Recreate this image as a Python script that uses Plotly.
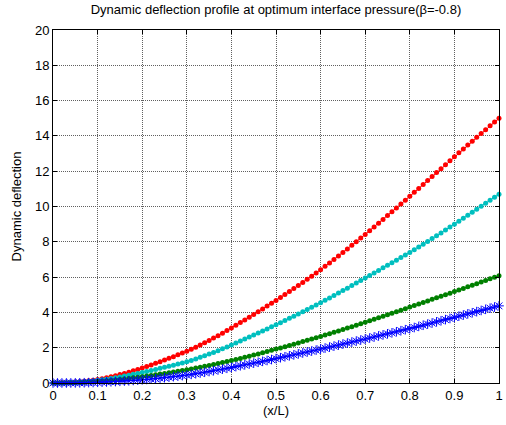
import plotly.graph_objects as go

# Non-dimensional position along the beam, 0..1 in steps of 0.01
x_over_L = [round(i * 0.01, 2) for i in range(101)]

defl_red = [
    0, 0.002, 0.008, 0.018, 0.032, 0.05, 0.072, 0.098, 0.128, 0.162, 0.2,
    0.247, 0.298, 0.353, 0.412, 0.475, 0.542, 0.613, 0.688, 0.767, 0.85,
    0.936, 1.024, 1.114, 1.206, 1.300, 1.396, 1.494, 1.594, 1.696, 1.80,
    1.914, 2.032, 2.154, 2.280, 2.410, 2.544, 2.682, 2.824, 2.970, 3.12,
    3.270, 3.421, 3.574, 3.728, 3.884, 4.041, 4.199, 4.358, 4.518, 4.68,
    4.844, 5.010, 5.178, 5.349, 5.522, 5.697, 5.874, 6.053, 6.234, 6.42,
    6.610, 6.803, 6.999, 7.197, 7.397, 7.598, 7.801, 8.006, 8.212, 8.42,
    8.630, 8.841, 9.054, 9.268, 9.484, 9.701, 9.919, 10.138, 10.358, 10.58,
    10.802, 11.025, 11.248, 11.472, 11.696, 11.920, 12.145, 12.370, 12.595, 12.82,
    13.042, 13.263, 13.483, 13.702, 13.920, 14.138, 14.355, 14.571, 14.786, 15.0,
]

defl_cyan = [
    0, 0.001, 0.005, 0.012, 0.022, 0.035, 0.051, 0.07, 0.093, 0.12, 0.15,
    0.183, 0.219, 0.258, 0.300, 0.345, 0.392, 0.441, 0.492, 0.545, 0.60,
    0.656, 0.713, 0.771, 0.830, 0.890, 0.950, 1.011, 1.073, 1.136, 1.20,
    1.28, 1.364, 1.452, 1.543, 1.638, 1.735, 1.834, 1.936, 2.041, 2.15,
    2.261, 2.373, 2.486, 2.60, 2.715, 2.83, 2.946, 3.063, 3.181, 3.30,
    3.42, 3.541, 3.663, 3.786, 3.91, 4.036, 4.163, 4.291, 4.42, 4.55,
    4.684, 4.82, 4.957, 5.095, 5.235, 5.375, 5.517, 5.66, 5.804, 5.95,
    6.092, 6.235, 6.379, 6.523, 6.668, 6.813, 6.959, 7.105, 7.252, 7.40,
    7.552, 7.706, 7.862, 8.02, 8.18, 8.34, 8.502, 8.666, 8.832, 9.0,
    9.168, 9.336, 9.505, 9.675, 9.845, 10.015, 10.186, 10.357, 10.529, 10.70,
]

defl_green = [
    0, 0.001, 0.003, 0.007, 0.013, 0.02, 0.029, 0.039, 0.051, 0.065, 0.08,
    0.099, 0.121, 0.145, 0.171, 0.199, 0.228, 0.259, 0.291, 0.325, 0.36,
    0.395, 0.431, 0.468, 0.506, 0.545, 0.584, 0.624, 0.665, 0.707, 0.75,
    0.796, 0.843, 0.892, 0.942, 0.994, 1.047, 1.101, 1.156, 1.212, 1.27,
    1.33, 1.392, 1.455, 1.519, 1.584, 1.65, 1.717, 1.784, 1.852, 1.92,
    1.989, 2.059, 2.13, 2.201, 2.273, 2.345, 2.418, 2.491, 2.565, 2.64,
    2.717, 2.795, 2.874, 2.953, 3.033, 3.113, 3.194, 3.275, 3.357, 3.44,
    3.524, 3.609, 3.694, 3.78, 3.866, 3.952, 4.038, 4.125, 4.212, 4.30,
    4.388, 4.476, 4.564, 4.652, 4.74, 4.828, 4.916, 5.004, 5.092, 5.18,
    5.27, 5.36, 5.45, 5.54, 5.63, 5.72, 5.81, 5.90, 5.99, 6.08,
]

defl_blue = [
    0, 0, 0.001, 0.002, 0.004, 0.007, 0.011, 0.016, 0.022, 0.03, 0.04,
    0.049, 0.059, 0.07, 0.082, 0.096, 0.111, 0.127, 0.144, 0.162, 0.18,
    0.201, 0.224, 0.249, 0.275, 0.302, 0.33, 0.359, 0.388, 0.418, 0.45,
    0.487, 0.526, 0.566, 0.608, 0.651, 0.695, 0.74, 0.786, 0.833, 0.88,
    0.928, 0.977, 1.026, 1.076, 1.126, 1.176, 1.227, 1.278, 1.329, 1.38,
    1.433, 1.486, 1.54, 1.594, 1.648, 1.702, 1.756, 1.81, 1.865, 1.92,
    1.977, 2.034, 2.091, 2.148, 2.205, 2.262, 2.319, 2.376, 2.433, 2.49,
    2.549, 2.608, 2.667, 2.726, 2.785, 2.844, 2.903, 2.962, 3.021, 3.08,
    3.144, 3.208, 3.272, 3.336, 3.40, 3.464, 3.528, 3.592, 3.656, 3.72,
    3.785, 3.85, 3.915, 3.98, 4.045, 4.11, 4.175, 4.24, 4.305, 4.37,
]

x_ticks = [0, 0.1, 0.2, 0.3, 0.4, 0.5, 0.6, 0.7, 0.8, 0.9, 1]
y_ticks = [0, 2, 4, 6, 8, 10, 12, 14, 16, 18, 20]

FONT = "Liberation Sans, Arial, sans-serif"
TXT = dict(family=FONT, size=13, color="black")

fig = go.Figure()

dot_series = [
    (defl_red, "#ff0000"),
    (defl_cyan, "#00bfbf"),
    (defl_green, "#008000"),
]
for ys, col in dot_series:
    fig.add_trace(go.Scatter(
        x=x_over_L, y=ys, mode="lines+markers",
        line=dict(color=col, width=1),
        marker=dict(symbol="circle", size=5, color=col),
        showlegend=False, cliponaxis=False,
    ))

fig.add_trace(go.Scatter(
    x=x_over_L, y=defl_blue, mode="lines+markers",
    line=dict(color="#0000ff", width=1),
    marker=dict(symbol="asterisk-open", size=8,
                line=dict(color="#2a2aff", width=1)),
    showlegend=False, cliponaxis=False,
))

axis_common = dict(
    showline=True, linecolor="black", linewidth=1, mirror="ticks",
    ticks="inside", ticklen=4, tickcolor="black",
    showgrid=True, gridcolor="#606060", griddash="1px,1px", gridwidth=1,
    zeroline=False, tickfont=TXT, ticklabeloverflow="allow",
)

fig.update_xaxes(
    range=[0, 1], tickvals=x_ticks, ticktext=[f"{v:g}" for v in x_ticks],
    title=dict(text="(x/L)", font=TXT, standoff=2),
    **axis_common,
)
fig.update_yaxes(
    range=[0, 20], tickvals=y_ticks, ticktext=[str(v) for v in y_ticks],
    title=dict(text="Dynamic deflection", font=TXT, standoff=10),
    **axis_common,
)

fig.update_layout(
    width=506, height=425,
    margin=dict(l=53, r=3, t=30, b=42),
    paper_bgcolor="white", plot_bgcolor="white",
    title=dict(text="Dynamic deflection profile at optimum interface pressure(β=-0.8)",
               x=0.5, xref="paper", xanchor="center",
               y=1, yref="container", yanchor="top", pad=dict(t=5),
               font=TXT),
)

fig.write_html("out.html")
